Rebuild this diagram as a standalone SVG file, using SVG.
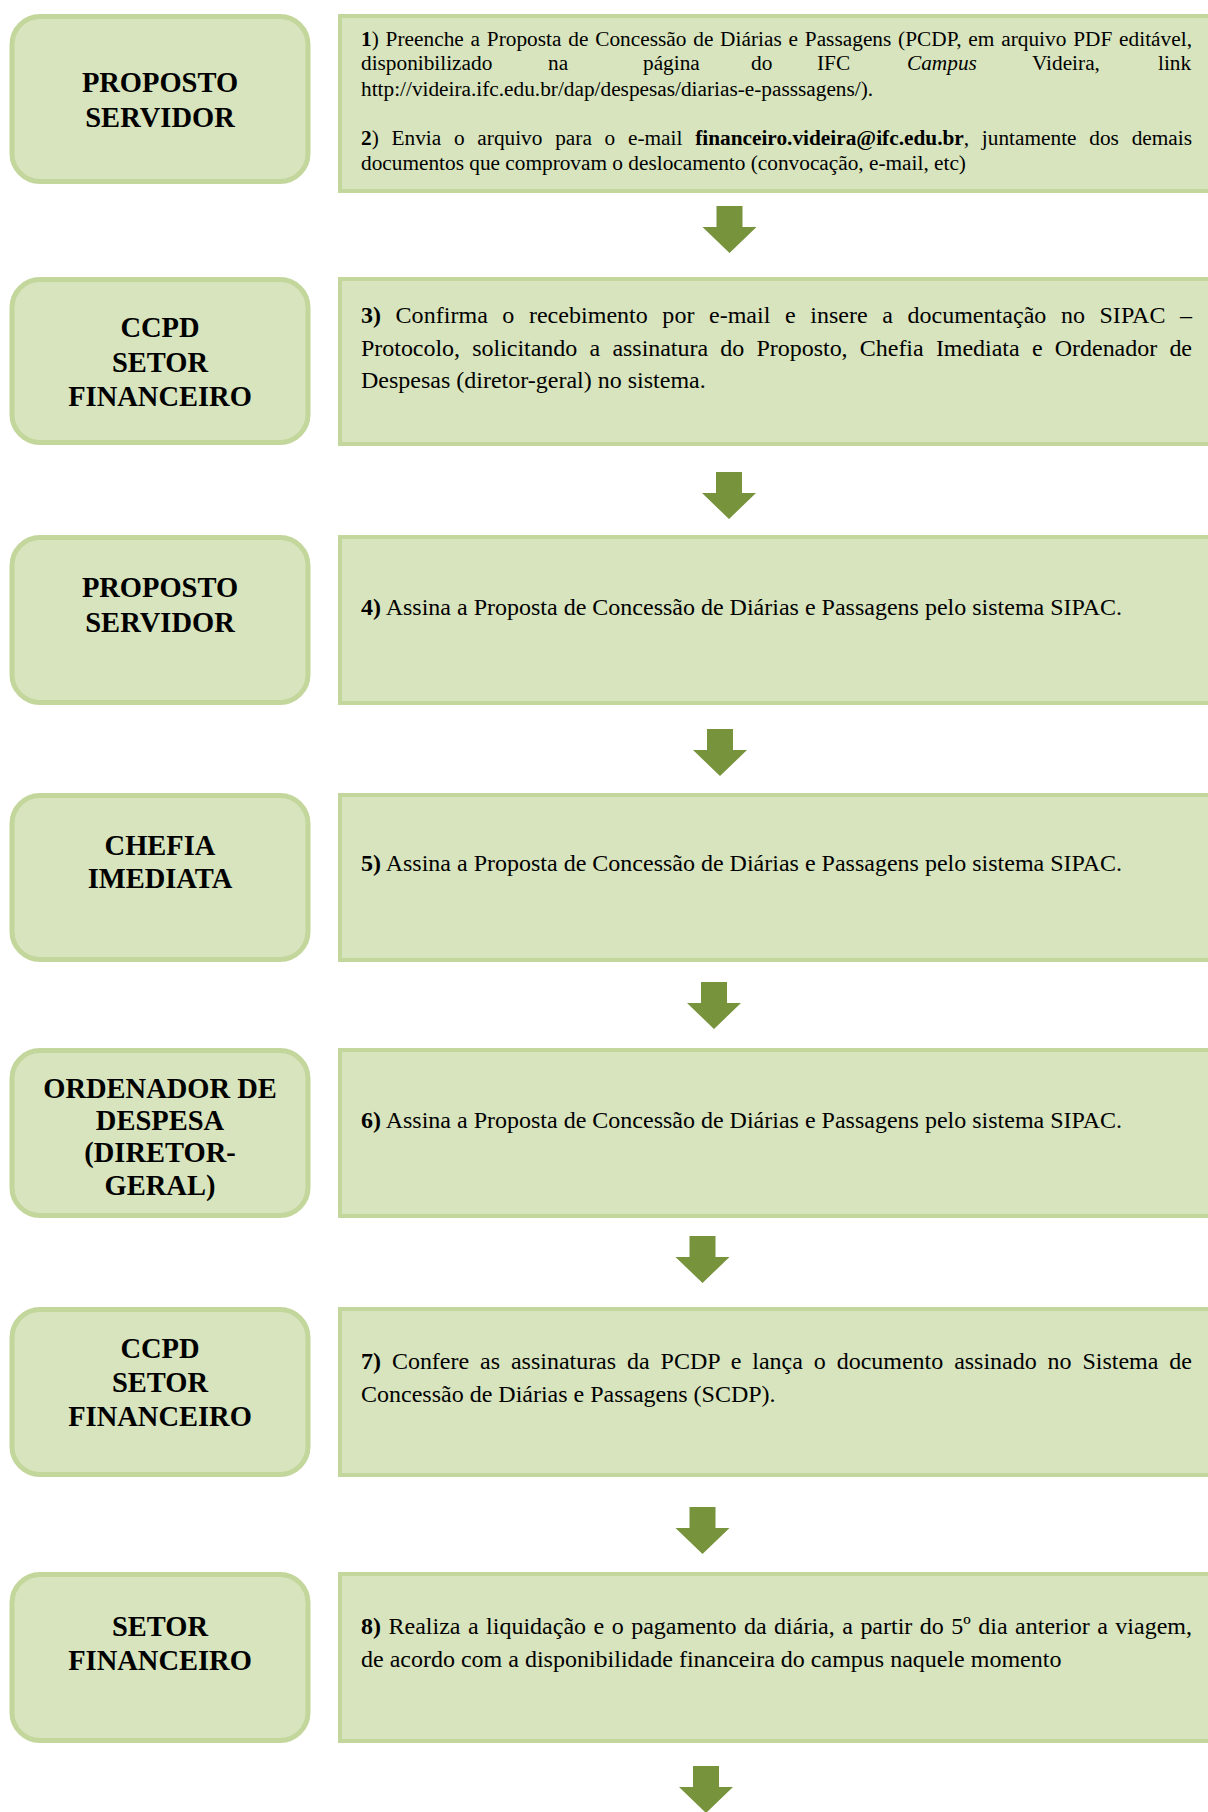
<svg xmlns="http://www.w3.org/2000/svg" width="1208" height="1812" viewBox="0 0 1208 1812">
<style>
.lbox{fill:#d7e4bd;stroke:#c3d69b;stroke-width:5}
.rbox{fill:#d7e4bd;stroke:#c3d69b;stroke-width:4}
.lbl{font-family:"Liberation Serif","Times New Roman",serif;font-weight:bold;font-size:28.5px;fill:#000;text-anchor:middle}
.t1{font-family:"Liberation Serif","Times New Roman",serif;font-size:21.3px;fill:#000}
.t2{font-family:"Liberation Serif","Times New Roman",serif;font-size:24px;fill:#000}
.b{font-weight:bold}
.arr{fill:#77933c}
</style>
<defs>
<path id="arrow" d="M-13,0 H13 V21 H27 L0,47 L-27,21 H-13 Z"/>
</defs>
<rect width="1208" height="1812" fill="#fff"/>

<g id="connectors">
<use href="#arrow" class="arr" x="729.5" y="206"/>
<use href="#arrow" class="arr" x="729" y="472"/>
<use href="#arrow" class="arr" x="720" y="729"/>
<use href="#arrow" class="arr" x="714" y="982"/>
<use href="#arrow" class="arr" x="702.5" y="1236"/>
<use href="#arrow" class="arr" x="702.5" y="1507"/>
<use href="#arrow" class="arr" x="706" y="1766"/>
</g>

<g id="actor1">
<rect class="lbox" x="12" y="16.5" width="296" height="165" rx="28"/>
<text class="lbl" x="160" y="92">PROPOSTO</text>
<text class="lbl" x="160" y="126.5">SERVIDOR</text>
</g>
<g id="step1">
<rect class="rbox" x="340" y="16" width="880" height="175"/>
<text class="t1" x="361" y="46" word-spacing="1.4" textLength="831" lengthAdjust="spacing"><tspan class="b">1</tspan>) Preenche a Proposta de Concessão de Diárias e Passagens (PCDP, em arquivo PDF editável,</text>
<text class="t1" y="70"><tspan x="361">disponibilizado</tspan><tspan x="548">na</tspan><tspan x="643">página</tspan><tspan x="751">do</tspan><tspan x="817">IFC</tspan><tspan x="907" font-style="italic">Campus</tspan><tspan x="1032">Videira,</tspan><tspan x="1158">link</tspan></text>
<text class="t1" x="361" y="95.5">http://videira.ifc.edu.br/dap/despesas/diarias-e-passsagens/).</text>
<text class="t1" x="361" y="145" word-spacing="7.4" textLength="831" lengthAdjust="spacing"><tspan class="b">2</tspan>) Envia o arquivo para o e-mail <tspan class="b">financeiro.videira@ifc.edu.br</tspan>, juntamente dos demais</text>
<text class="t1" x="361" y="169.5">documentos que comprovam o deslocamento (convocação, e-mail, etc)</text>
</g>

<g id="actor2">
<rect class="lbox" x="12" y="279.5" width="296" height="163" rx="28"/>
<text class="lbl" x="160" y="337">CCPD</text>
<text class="lbl" x="160" y="371.5">SETOR</text>
<text class="lbl" x="160" y="406">FINANCEIRO</text>
</g>
<g id="step3">
<rect class="rbox" x="340" y="279" width="880" height="165"/>
<text class="t2" x="361" y="323" word-spacing="8.5" textLength="831" lengthAdjust="spacing"><tspan class="b">3)</tspan> Confirma o recebimento por e-mail e insere a documentação no SIPAC –</text>
<text class="t2" x="361" y="355.5" word-spacing="6.3" textLength="831" lengthAdjust="spacing">Protocolo, solicitando a assinatura do Proposto, Chefia Imediata e Ordenador de</text>
<text class="t2" x="361" y="387.5">Despesas (diretor-geral) no sistema.</text>
</g>

<g id="actor3">
<rect class="lbox" x="12" y="537.5" width="296" height="165" rx="28"/>
<text class="lbl" x="160" y="597">PROPOSTO</text>
<text class="lbl" x="160" y="631.5">SERVIDOR</text>
</g>
<g id="step4">
<rect class="rbox" x="340" y="537" width="880" height="166"/>
<text class="t2" x="361" y="614.5"><tspan class="b">4)</tspan> Assina a Proposta de Concessão de Diárias e Passagens pelo sistema SIPAC.</text>
</g>

<g id="actor4">
<rect class="lbox" x="12" y="795.5" width="296" height="164" rx="28"/>
<text class="lbl" x="160" y="854.5">CHEFIA</text>
<text class="lbl" x="160" y="888">IMEDIATA</text>
</g>
<g id="step5">
<rect class="rbox" x="340" y="795" width="880" height="165"/>
<text class="t2" x="361" y="871"><tspan class="b">5)</tspan> Assina a Proposta de Concessão de Diárias e Passagens pelo sistema SIPAC.</text>
</g>

<g id="actor5">
<rect class="lbox" x="12" y="1050.5" width="296" height="165" rx="28"/>
<text class="lbl" x="160" y="1097.5">ORDENADOR DE</text>
<text class="lbl" x="160" y="1129.5">DESPESA</text>
<text class="lbl" x="160" y="1162">(DIRETOR-</text>
<text class="lbl" x="160" y="1194.5">GERAL)</text>
</g>
<g id="step6">
<rect class="rbox" x="340" y="1050" width="880" height="166"/>
<text class="t2" x="361" y="1127.5"><tspan class="b">6)</tspan> Assina a Proposta de Concessão de Diárias e Passagens pelo sistema SIPAC.</text>
</g>

<g id="actor6">
<rect class="lbox" x="12" y="1309.5" width="296" height="165" rx="28"/>
<text class="lbl" x="160" y="1357.5">CCPD</text>
<text class="lbl" x="160" y="1392">SETOR</text>
<text class="lbl" x="160" y="1425.5">FINANCEIRO</text>
</g>
<g id="step7">
<rect class="rbox" x="340" y="1309" width="880" height="166"/>
<text class="t2" x="361" y="1369" word-spacing="5" textLength="831" lengthAdjust="spacing"><tspan class="b">7)</tspan> Confere as assinaturas da PCDP e lança o documento assinado no Sistema de</text>
<text class="t2" x="361" y="1401.5">Concessão de Diárias e Passagens (SCDP).</text>
</g>

<g id="actor7">
<rect class="lbox" x="12" y="1574.5" width="296" height="166" rx="28"/>
<text class="lbl" x="160" y="1636">SETOR</text>
<text class="lbl" x="160" y="1669.5">FINANCEIRO</text>
</g>
<g id="step8">
<rect class="rbox" x="340" y="1574" width="880" height="167"/>
<text class="t2" x="361" y="1634" word-spacing="1.5" textLength="831" lengthAdjust="spacing"><tspan class="b">8)</tspan> Realiza a liquidação e o pagamento da diária, a partir do 5º dia anterior a viagem,</text>
<text class="t2" x="361" y="1666.5">de acordo com a disponibilidade financeira do campus naquele momento</text>
</g>
</svg>
